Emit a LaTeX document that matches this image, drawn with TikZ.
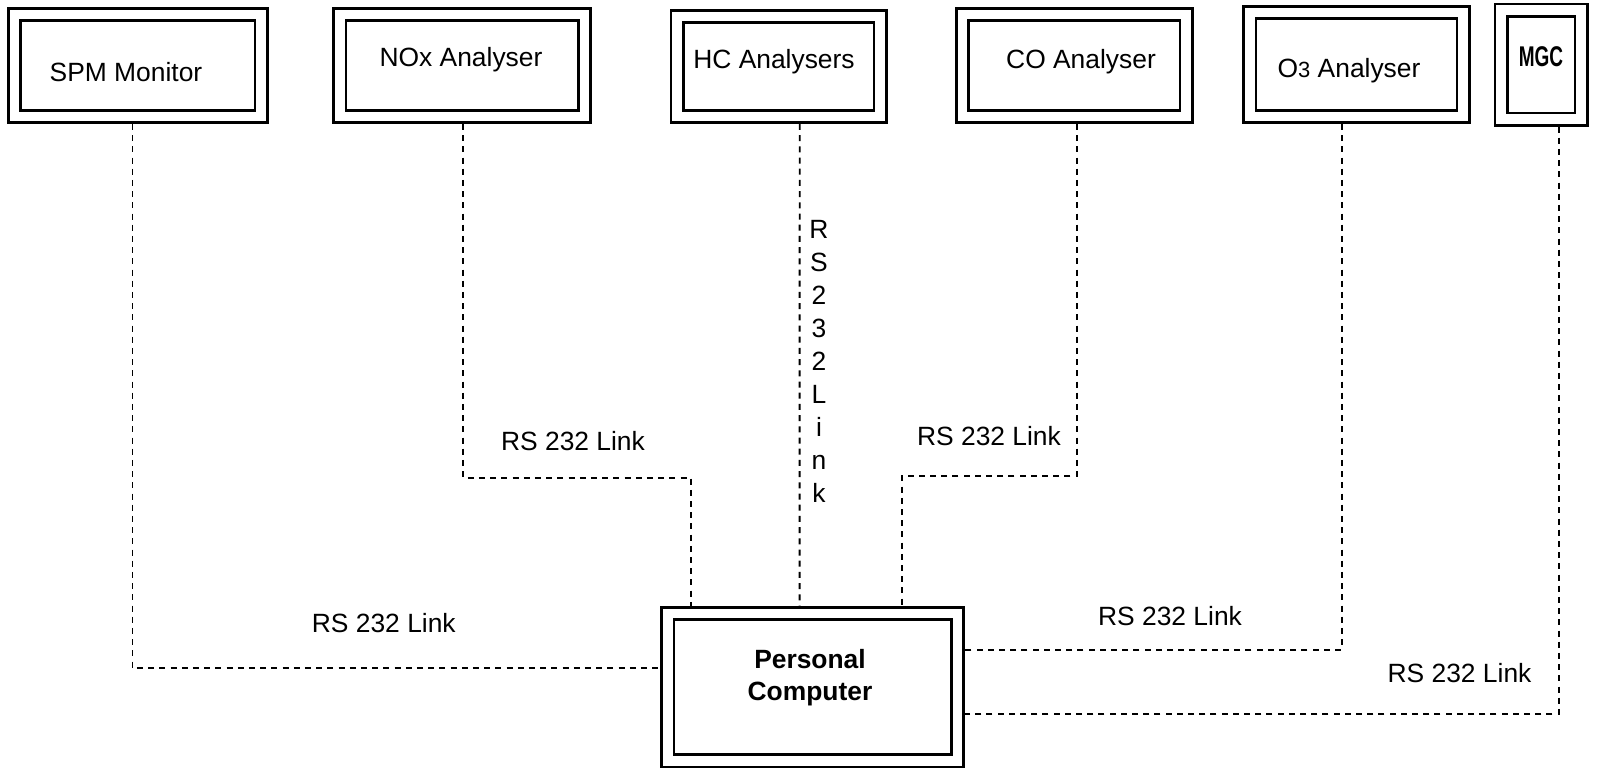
\documentclass[tikz,border=0pt]{standalone}
\usepackage{fontspec}
\setmainfont{Liberation Sans}
\begin{document}
\begin{tikzpicture}[x=0.5pt,y=-0.5pt,
  box/.style={draw, double, line width=1.3pt, double distance=4.9pt, outer sep=3.75pt, inner sep=0pt},
  txt/.style={font=\fontsize{13.2}{16}\selectfont, inner sep=0pt},
  link/.style={draw, dashed, dash pattern=on 3pt off 2.6pt, line width=0.9pt},
  lbl/.style={font=\fontsize{13.2}{16}\selectfont, inner sep=0pt}]
\useasboundingbox (0,0) rectangle (1622,771);
% boxes
\node[box, minimum width=123.35pt, minimum height=50.95pt] (spm) at (137.85,65.45) {};
\node[box, minimum width=122.35pt, minimum height=50.95pt] (nox) at (462.15,65.45) {};
\node[box, minimum width=101.65pt, minimum height=49.95pt] (hc) at (778.65,66.45) {};
\node[box, minimum width=111.75pt, minimum height=50.95pt] (co) at (1074.25,65.45) {};
\node[box, minimum width=106.8pt, minimum height=52pt] (o3) at (1356.4,64.4) {};
\node[box, minimum width=40.05pt, minimum height=54.35pt] (mgc) at (1541.05,64.65) {};
\node[box, minimum width=144.8pt, minimum height=73.7pt] (pc) at (812.6,687.2) {};
% box texts
\node[txt] (tspm) at (126,72) {SPM Monitor};
\node[txt] (tnox) at (461,60) {NOx Analyser};
\node[txt] (thc) at (774,62) {HC Analysers};
\node[txt] (tco) at (1081,62) {CO Analyser};
\node[txt] (to3) at (1349,71) {O{\fontsize{11}{12}\selectfont 3} Analyser};
\node[txt, font=\fontsize{13.2}{16}\selectfont\bfseries] (tmgc) at (1541,57) {\scalebox{0.72}[1.08]{MGC}};
\node[txt, font=\fontsize{13.2}{16}\selectfont\bfseries, align=center] (tpc) at (810,678) {Personal\\Computer};
% attach points
\coordinate (spmA) at ([xshift=-2.7pt]spm.south);
\coordinate (noxA) at ([xshift=0.6pt]nox.south);
\coordinate (hcA) at ([xshift=10.5pt]hc.south);
\coordinate (coA) at ([xshift=1.3pt]co.south);
\coordinate (o3A) at ([xshift=-7.4pt]o3.south);
\coordinate (mgcA) at ([xshift=8.9pt]mgc.south);
\coordinate (pcW) at ([yshift=9.5pt]pc.west);
\coordinate (pcN1) at ([xshift=-60.8pt]pc.north);
\coordinate (pcN2) at ([xshift=-6.5pt]pc.north);
\coordinate (pcN3) at ([xshift=44.7pt]pc.north);
\coordinate (pcE1) at ([yshift=18.8pt]pc.east);
\coordinate (pcE2) at ([yshift=-13.25pt]pc.east);
\coordinate (nb) at (0,477.9);
\coordinate (cb) at (0,475.8);
% connectors
\draw[link] (spmA) |- (pcW);
\draw[link] (noxA) |- (nb -| pcN1) -- (pcN1);
\draw[link] (hcA) -- (pcN2);
\draw[link] (coA) |- (cb -| pcN3) -- (pcN3);
\draw[link] (o3A) |- (pcE1);
\draw[link] (mgcA) |- (pcE2);
% labels
\node[lbl] (l1) at (383.8,622.7) {RS 232 Link};
\node[lbl] (l2) at (573,440.7) {RS 232 Link};
\node[lbl] (l3) at (989,436.5) {RS 232 Link};
\node[lbl] (l4) at (1170,616.5) {RS 232 Link};
\node[lbl] (l5) at (1459.5,673.4) {RS 232 Link};
\node[lbl, align=center, font=\fontsize{13.2}{16.5}\selectfont] (lv) at (819,361) {R\\S\\2\\3\\2\\L\\i\\n\\k};
\end{tikzpicture}
\end{document}
